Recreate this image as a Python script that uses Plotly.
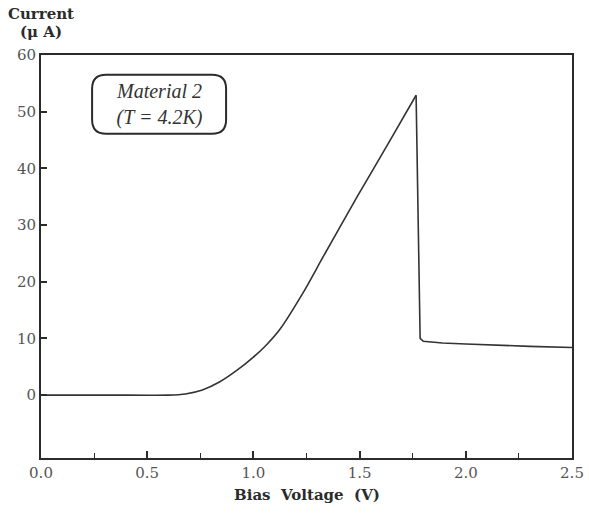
import plotly.graph_objects as go

# Data (Bias voltage in V, current in µA)
bias_v = [0.0, 0.3, 0.6, 0.68, 0.76, 0.84, 0.92, 1.0, 1.06, 1.125, 1.23, 1.33,
          1.49, 1.64, 1.766, 1.785, 1.80, 1.89, 2.0, 2.13, 2.3, 2.5]
current_ua = [0.0, 0.0, 0.0, 0.2, 0.9, 2.3, 4.3, 6.7, 8.8, 11.6, 17.8, 24.5,
              35.1, 44.7, 52.9, 10.0, 9.5, 9.2, 9.0, 8.8, 8.6, 8.4]
peak_index = 14

x_ticks = [0.0, 0.5, 1.0, 1.5, 2.0, 2.5]
x_labels = ["0.0", "0.5", "1.0", "1.5", "2.0", "2.5"]
y_ticks = [0, 10, 20, 30, 40, 50, 60]

serif = "Liberation Serif, Times New Roman, serif"
wide_serif = "DejaVu Serif, serif"
ink = "#2b2b2b"
label_col = "#555555"

fig = go.Figure()
# rising branch (smooth) up to the peak
fig.add_trace(go.Scatter(x=bias_v[:peak_index + 1], y=current_ua[:peak_index + 1],
                         mode="lines", line=dict(color="#333333", width=1.6,
                                                 shape="spline", smoothing=0.8),
                         showlegend=False, hoverinfo="skip"))
# drop and tail
fig.add_trace(go.Scatter(x=bias_v[peak_index:], y=current_ua[peak_index:],
                         mode="lines", line=dict(color="#333333", width=1.6),
                         showlegend=False, hoverinfo="skip"))

fig.update_layout(
    width=589, height=518,
    margin=dict(l=41, r=17, t=55, b=60, autoexpand=False),
    paper_bgcolor="white", plot_bgcolor="white",
    font=dict(family=wide_serif, size=15, color=label_col),
)
fig.update_xaxes(
    range=[0, 2.5], tickvals=x_ticks, ticktext=x_labels, automargin=False,
    ticks="inside", ticklen=7, tickwidth=1.5, tickcolor=ink,
    minor=dict(ticks="inside", dtick=0.25, tick0=0, ticklen=5, tickwidth=1.2, tickcolor=ink),
    showline=True, linecolor=ink, linewidth=1.8, mirror=True,
    showgrid=False, zeroline=False,
    tickfont=dict(family=wide_serif, size=15, color=label_col),
)
fig.update_yaxes(
    range=[-11.1, 60], tickvals=y_ticks, automargin=False,
    ticks="inside", ticklen=6, tickwidth=1.5, tickcolor=ink,
    showline=True, linecolor=ink, linewidth=1.8, mirror=True,
    showgrid=False, zeroline=False,
    tickfont=dict(family=wide_serif, size=15, color=label_col),
)

# Axis titles
fig.add_annotation(text="<b>Current</b>", xref="paper", yref="paper",
                   x=0.0, y=1.102, xanchor="center", yanchor="middle",
                   showarrow=False, font=dict(family=wide_serif, size=15, color=ink))
fig.add_annotation(text="<b>(μ A)</b>", xref="paper", yref="paper",
                   x=0.0, y=1.058, xanchor="center", yanchor="middle",
                   showarrow=False, font=dict(family=wide_serif, size=15, color=ink))
fig.add_annotation(text="<b>Bias  Voltage  (V)</b>", xref="paper", yref="paper",
                   x=0.5, y=-0.092, xanchor="center", yanchor="middle",
                   showarrow=False, font=dict(family=wide_serif, size=15, color=ink))

# Rounded label box
w, h, r = 67, 29.5, 14
path = (f"M {-w+r},{-h} L {w-r},{-h} Q {w},{-h} {w},{-h+r} L {w},{h-r} "
        f"Q {w},{h} {w-r},{h} L {-w+r},{h} Q {-w},{h} {-w},{h-r} "
        f"L {-w},{-h+r} Q {-w},{-h} {-w+r},{-h} Z")
fig.add_shape(type="path", path=path, xref="x", yref="y",
              xsizemode="pixel", ysizemode="pixel",
              xanchor=0.556, yanchor=51.3,
              line=dict(color=ink, width=2), fillcolor="rgba(0,0,0,0)")
fig.add_annotation(text="<i>Material 2</i><br><i>(T = 4.2K)</i>",
                   x=0.556, y=51.3, xref="x", yref="y",
                   showarrow=False, align="center",
                   font=dict(family=serif, size=20, color="#333333"))

fig.write_html("out.html")
